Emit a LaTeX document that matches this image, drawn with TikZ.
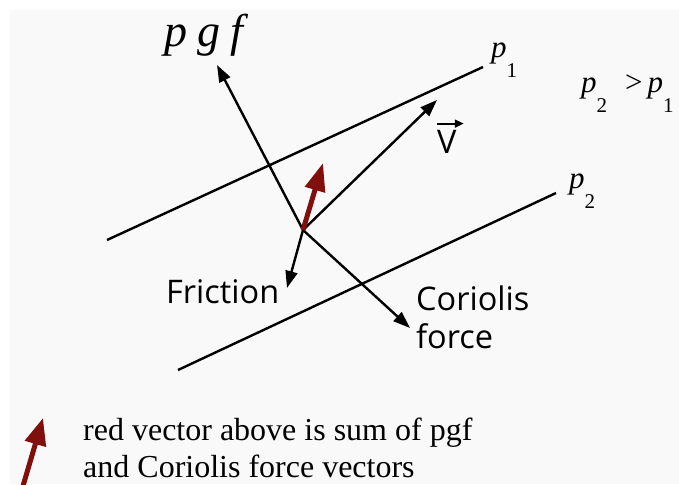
\documentclass[tikz,border=0pt]{standalone}
\usepackage{fontspec}
\setmainfont{Liberation Serif}
\newfontfamily\labelsans{Open Sans}
\usetikzlibrary{arrows.meta}
\definecolor{sumred}{RGB}{128,16,12}
\definecolor{panelgray}{RGB}{249,249,249}
\newcommand{\psub}[1]{\textit{p}\raisebox{-20pt}{\fontsize{21}{21}\selectfont #1}}

\begin{document}
\begin{tikzpicture}[x=1pt,y=-1pt,
  isobar/.style={line width=2.4pt},
  force/.style={line width=2.4pt,-{Triangle[length=17pt,width=12pt]}},
  sumvec/.style={line width=5pt,sumred,-{Triangle[length=28pt,width=20pt]}},
  sanslab/.style={inner sep=0pt,font=\labelsans\fontsize{32.5}{38}\selectfont},
  seriflab/.style={inner sep=0pt,font=\fontsize{31}{31}\selectfont}
]
\useasboundingbox (0,0) rectangle (679,484);
\fill[panelgray] (10,10) rectangle (679,484);

% isobars
\coordinate (p1w) at (107,240);
\coordinate (p1e) at (483,67);
\coordinate (p2w) at (178,370);
\coordinate (p2e) at (556,193);
\draw[isobar] (p1w) -- (p1e);
\draw[isobar] (p2w) -- (p2e);
\node[seriflab,anchor=base west] (p1lab) at (491,58) {\psub{1}};
\node[seriflab,anchor=base west] (p2lab) at (569,188) {\psub{2}};
\node[seriflab,anchor=base west] (plaw) at (581,93) {\psub{2}\hspace{18pt}>\hspace{5pt}\psub{1}};

% force vectors
\coordinate (O) at (303,230);
\coordinate (pgftip) at (217,65);
\coordinate (vtip) at (437,100);
\coordinate (frtip) at (287,288);
\coordinate (cortip) at (410,328);
\coordinate (sumtip) at (323,163);
\draw[force] (O) -- (pgftip);
\draw[force] (O) -- (vtip);
\draw[force] (O) -- (frtip);
\draw[force] (O) -- (cortip);
\draw[sumvec] (O) -- (sumtip);

\node[inner sep=0pt,anchor=base west,font=\fontsize{46}{46}\selectfont\itshape] (pgflab) at (164,47) {p\hspace{10pt}g\hspace{10pt}f};
\node[sanslab,anchor=base west] (vlab) at (437,153) {V};
\draw[line width=2pt,-{Triangle[length=9pt,width=8pt]}] ([shift={(0,-6)}]vlab.north west) -- ([shift={(7,-6)}]vlab.north east);
\node[sanslab,anchor=base west] (frlab) at (166,303) {Friction};
\node[sanslab,anchor=north west,align=left] (corlab) at (416,286) {Coriolis\\force};

% legend
\coordinate (legtail) at (23,486);
\coordinate (legtip) at (43,418);
\draw[sumvec,-{Triangle[length=27pt,width=21pt]}] (legtail) -- (legtip);
\node[inner sep=0pt,anchor=north west,align=left,font=\fontsize{32}{37}\selectfont] (legtext) at (83,418) {red vector above is sum of pgf\\and Coriolis force vectors};
\end{tikzpicture}
\end{document}
